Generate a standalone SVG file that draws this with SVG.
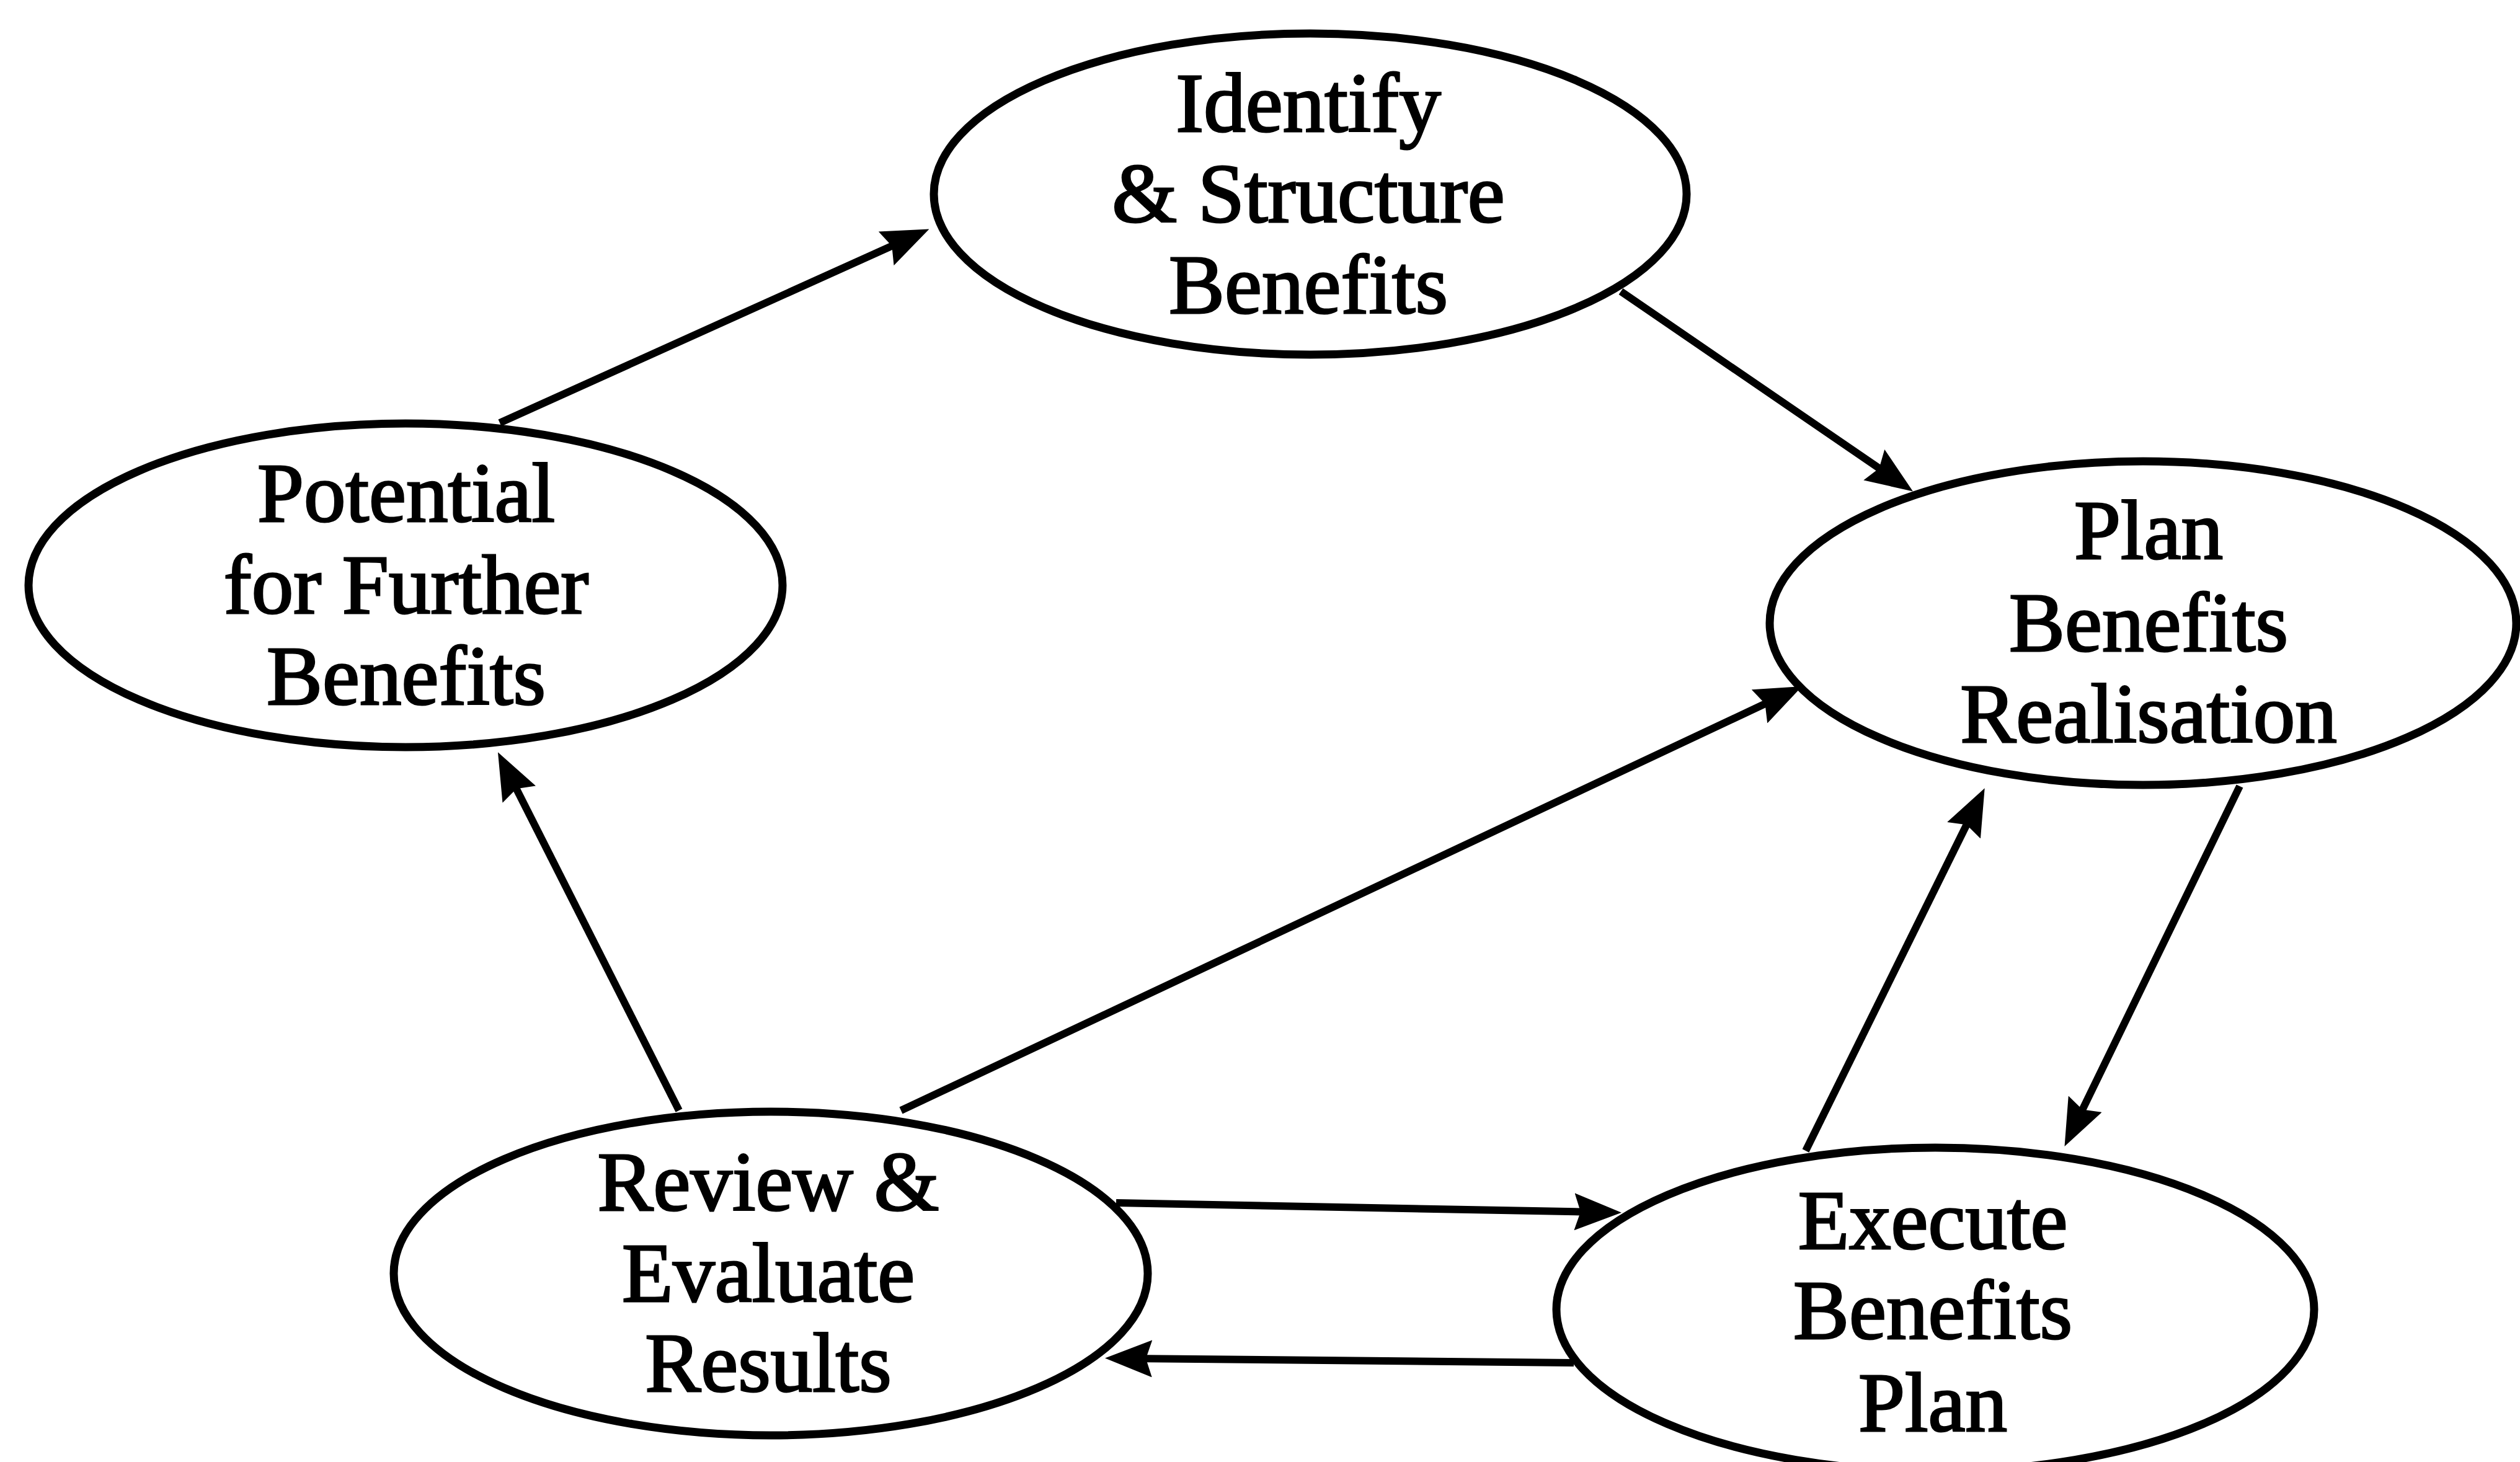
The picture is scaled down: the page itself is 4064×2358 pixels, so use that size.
<svg xmlns="http://www.w3.org/2000/svg" width="4064" height="2358" viewBox="0 0 4064 2358">
<style>
.node ellipse{fill:#fff;stroke:#000;stroke-width:13}
.node text{font-family:"Liberation Serif","Times New Roman",serif;font-size:135px;fill:#000;text-anchor:middle;stroke:#000;stroke-width:3}
#connectors line{stroke:#000;stroke-width:12;fill:none;marker-end:url(#arrow)}
</style>
<defs>
<marker id="arrow" markerUnits="userSpaceOnUse" markerWidth="76" markerHeight="60" viewBox="0 0 76 60" refX="36" refY="30" orient="auto">
<path d="M0,0 L76,30 L0,60 L10,30 Z" fill="#000"/>
</marker>
</defs>
<rect width="4064" height="2358" fill="#fff"/>
<g id="connectors">
<line x1="806" y1="682" x2="1462" y2="386"/>
<line x1="2614" y1="470" x2="3052" y2="770"/>
<line x1="3612" y1="1268" x2="3347" y2="1813"/>
<line x1="2912" y1="1856" x2="3183" y2="1307"/>
<line x1="1095" y1="1791" x2="821" y2="1249"/>
<line x1="1453" y1="1791" x2="2870" y2="1124"/>
<line x1="1800" y1="1940" x2="2575" y2="1955"/>
<line x1="2538" y1="2198" x2="1822" y2="2191"/>
</g>
<g id="identify" class="node">
<ellipse cx="2113" cy="313" rx="607" ry="259"/>
<text x="2110" y="212">Identify</text>
<text x="2110" y="358">&amp; Structure</text>
<text x="2110" y="505">Benefits</text>
</g>
<g id="potential" class="node">
<ellipse cx="654" cy="944" rx="608" ry="261"/>
<text x="655" y="841">Potential</text>
<text x="655" y="989">for Further</text>
<text x="655" y="1136">Benefits</text>
</g>
<g id="plan" class="node">
<ellipse cx="3456" cy="1005" rx="602" ry="261"/>
<text x="3465" y="901">Plan</text>
<text x="3465" y="1050">Benefits</text>
<text x="3465" y="1197">Realisation</text>
</g>
<g id="review" class="node">
<ellipse cx="1243" cy="2054" rx="608" ry="261"/>
<text x="1239" y="1952">Review &amp;</text>
<text x="1239" y="2099">Evaluate</text>
<text x="1239" y="2244">Results</text>
</g>
<g id="execute" class="node">
<ellipse cx="3121" cy="2112" rx="611" ry="261"/>
<text x="3117" y="2014">Execute</text>
<text x="3117" y="2159">Benefits</text>
<text x="3117" y="2308">Plan</text>
</g>
</svg>
